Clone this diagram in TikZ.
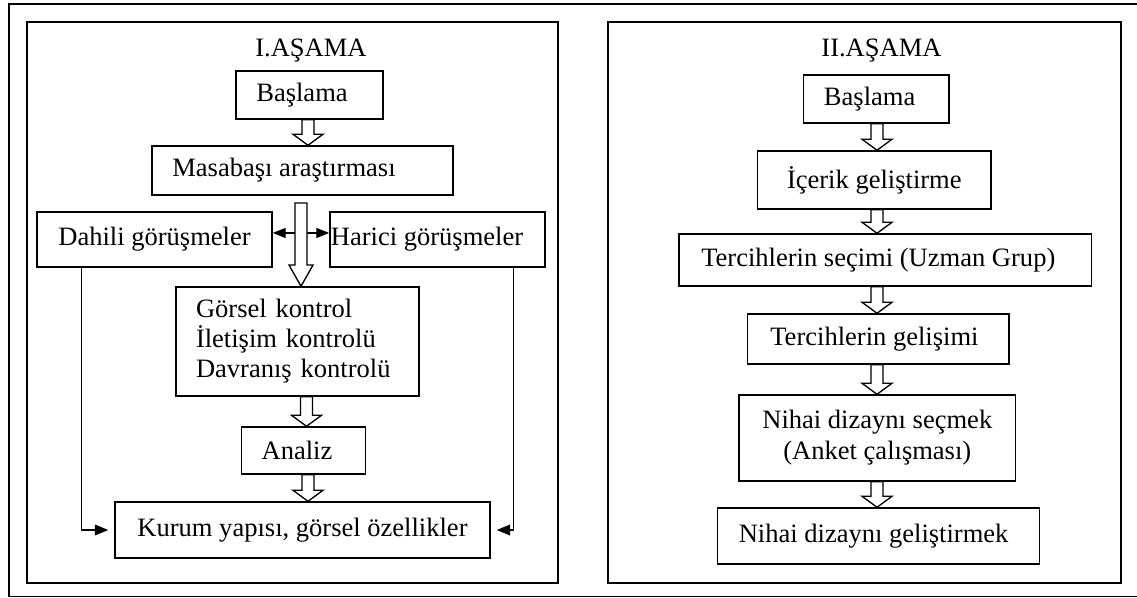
\documentclass[tikz,border=0pt]{standalone}
\usepackage{fontspec}
\setmainfont{Liberation Serif}
\usetikzlibrary{arrows.meta,calc}
\tikzset{
  box/.style={draw, line width=1.1pt, inner sep=0pt, align=center, font=\fontsize{19.9}{23.25}\selectfont},
  frame/.style={draw, line width=1.3pt},
  blk/.style={draw, line width=1pt, fill=white, line join=miter},
  conn/.style={line width=1pt, -{Triangle[length=10pt,width=8pt]}},
  title/.style={anchor=base, inner sep=0pt, font=\fontsize{19.9}{23.25}\selectfont},
}
\newcommand\blockarrow[3]{%
  \draw[blk] let \p1=(#2.south), \p2=(#3.north), \p3=(#1,0) in
  (\x3-4.5pt,\y1) -- (\x3-4.5pt,\y2+8.25pt) -- (\x3-11.25pt,\y2+8.25pt) -- (\x3,\y2)
  -- (\x3+11.25pt,\y2+8.25pt) -- (\x3+4.5pt,\y2+8.25pt) -- (\x3+4.5pt,\y1) -- cycle;}
\begin{document}
\begin{tikzpicture}[x=0.75pt,y=-0.75pt]
\useasboundingbox (0,0) rectangle (1137,598);
% outer frame (open on the right)
\draw[line width=1pt] (1137,4) -- (9,4) -- (9,596.5) -- (1137,596.5);
% panels
\draw[frame] (27,22) rectangle (558,583);
\draw[frame] (608,22) rectangle (1121,583);

% ---- Left panel ----
\node[title] (t1) at (311,57) {I.AŞAMA};
\node[box, minimum width=110.25pt, minimum height=36pt] (b1) at (309.5,95) {Başlama\hspace*{11.25pt}};
\node[box, minimum width=225.75pt, minimum height=36.75pt] (m1) at (302.5,170.5) {Masabaşı araştırması\hspace*{27.75pt}};
\node[box, minimum width=176.25pt, minimum height=41.25pt] (d1) at (154.5,239.5) {Dahili görüşmeler};
\node[box, minimum width=161.25pt, minimum height=41.25pt] (h1) at (437.5,239.5) {Harici görüşmeler\hspace*{15.75pt}};
\node[box, align=left, text width=152.25pt, inner xsep=15pt, minimum height=81.75pt,
      font=\fontsize{19.9}{22.5}\selectfont] (g1) at (297.5,341.5) {\rule{0pt}{12pt}Görsel kontrol\\İletişim kontrolü\\Davranış kontrolü};
\node[box, minimum width=93pt, minimum height=35.25pt] (a1) at (303.5,450.5) {Analiz\hspace*{9.75pt}};
\node[box, minimum width=281.25pt, minimum height=42pt] (k1) at (302.5,530) {Kurum yapısı, görsel özellikler};

\blockarrow{308}{b1}{m1}
\blockarrow{306.5}{g1}{a1}
\blockarrow{308}{a1}{k1}

% double arrow between interviews
\draw[line width=1pt, {Triangle[length=9.75pt,width=7.5pt]}-{Triangle[length=9.75pt,width=7.5pt]}]
  ([yshift=4.9pt]d1.east) -- ([yshift=4.9pt]h1.west);
% big hollow arrow
\draw[blk] let \p1=(m1.south), \p2=(g1.north) in
  (295,203) -- (295,265) -- (289,265) -- (\x1-1.5*0.75pt,\y2) -- (313,265) -- (307,265) -- (307,203) -- cycle;

% side connectors
\draw[conn, shorten >=4.5pt] ([xshift=33.75pt]d1.south west) |- (k1.west);
\draw[conn, shorten >=4.5pt] ([xshift=-24pt]h1.south east) |- (k1.east);

% ---- Right panel ----
\node[title] (t2) at (881.5,57) {II.AŞAMA};
\node[box, minimum width=109pt, minimum height=36pt] (b2) at (876.3,99) {Başlama\hspace*{10pt}};
\node[box, minimum width=175pt, minimum height=43.5pt] (c2) at (874.3,180) {İçerik geliştirme};
\node[box, minimum width=309.4pt, minimum height=39pt] (s2) at (885.3,260) {Tercihlerin seçimi (Uzman Grup)\hspace*{10.5pt}};
\node[box, minimum width=196pt, minimum height=37.5pt] (g2) at (878.4,339) {Tercihlerin gelişimi\hspace*{6pt}};
\node[box, minimum width=207.5pt, minimum height=64.5pt] (n2) at (877.3,438) {Nihai dizaynı seçmek\\(Anket çalışması)};
\node[box, minimum width=241.5pt, minimum height=42pt] (f2) at (878.6,536) {Nihai dizaynı geliştirmek\hspace*{7.5pt}};

\blockarrow{877}{b2}{c2}
\blockarrow{877}{c2}{s2}
\blockarrow{877}{s2}{g2}
\blockarrow{877}{g2}{n2}
\blockarrow{877}{n2}{f2}
\end{tikzpicture}
\end{document}
